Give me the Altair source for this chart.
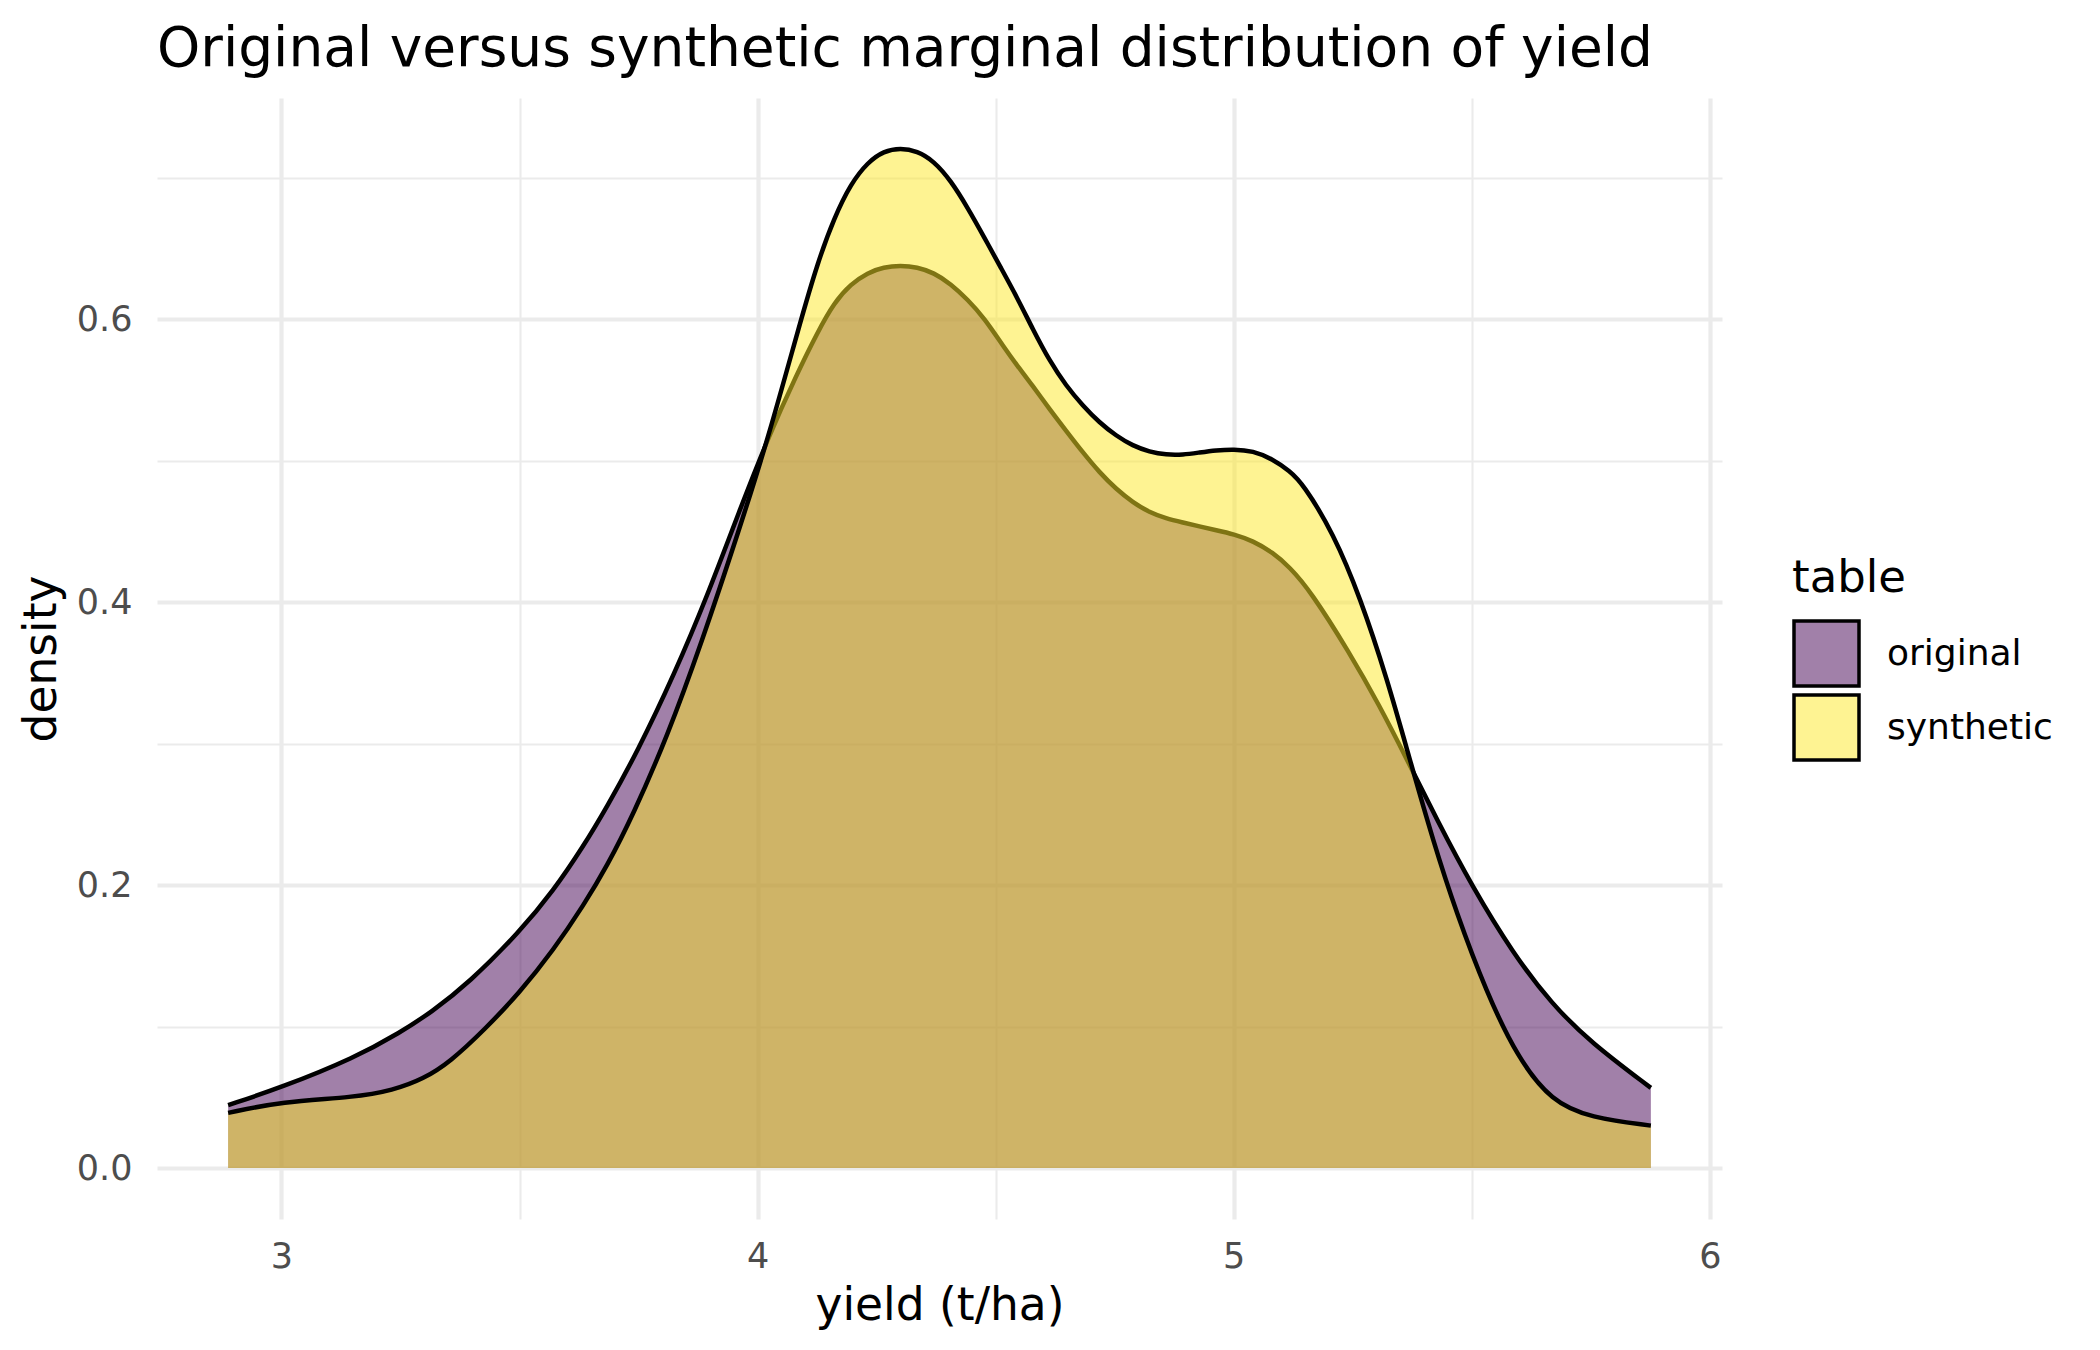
import altair as alt
import pandas as pd

# ---- data ----
tables = ["original", "synthetic"]

orig_x = [2.888, 3.0, 3.154, 3.25, 3.314, 3.394, 3.5, 3.571, 3.635, 3.683, 3.747,
          3.825, 3.895, 3.962, 4.024, 4.082, 4.126, 4.161, 4.196, 4.231, 4.265, 4.30,
          4.335, 4.37, 4.406, 4.441, 4.476, 4.518, 4.543, 4.578, 4.613, 4.648, 4.683,
          4.718, 4.753, 4.788, 4.823, 4.858, 4.893, 4.928, 4.963, 5.0, 5.04, 5.082,
          5.117, 5.161, 5.242, 5.306, 5.362, 5.427, 5.499, 5.588, 5.668, 5.749, 5.876]
orig_y = [0.0445, 0.057, 0.078, 0.096, 0.110, 0.131, 0.167, 0.196, 0.228, 0.255, 0.294,
          0.349, 0.405, 0.465, 0.518, 0.561, 0.591, 0.612, 0.625, 0.633, 0.637, 0.638,
          0.637, 0.633, 0.625, 0.614, 0.601, 0.580, 0.5683, 0.553, 0.5365, 0.5212, 0.5059,
          0.4918, 0.480, 0.4706, 0.4635, 0.4592, 0.4564, 0.4536, 0.451, 0.4482, 0.4435, 0.4352,
          0.425, 0.408, 0.365, 0.327, 0.290, 0.246, 0.200, 0.151, 0.116, 0.089, 0.0567]

syn_x = [2.888, 3.0, 3.154, 3.234, 3.298, 3.354, 3.427, 3.5, 3.571, 3.635, 3.683,
         3.739, 3.81, 3.881, 3.962, 4.024, 4.091, 4.126, 4.161, 4.196, 4.231, 4.265,
         4.30, 4.335, 4.37, 4.406, 4.441, 4.476, 4.51, 4.545, 4.578, 4.613, 4.648,
         4.683, 4.718, 4.753, 4.788, 4.823, 4.858, 4.893, 4.928, 4.963, 5.0, 5.04,
         5.082, 5.117, 5.145, 5.209, 5.266, 5.322, 5.37, 5.419, 5.467, 5.531, 5.596,
         5.668, 5.749, 5.876]
syn_y = [0.039, 0.047, 0.050, 0.055, 0.063, 0.075, 0.098, 0.124, 0.154, 0.186, 0.213,
         0.250, 0.305, 0.370, 0.452, 0.518, 0.600, 0.640, 0.672, 0.696, 0.711, 0.719,
         0.7212, 0.719, 0.712, 0.698, 0.679, 0.658, 0.637, 0.6155, 0.593, 0.5707, 0.553,
         0.539, 0.527, 0.5177, 0.5106, 0.5064, 0.5042, 0.5042, 0.5059, 0.5075, 0.5082, 0.5071,
         0.5012, 0.4929, 0.484, 0.449, 0.403, 0.346, 0.2885, 0.231, 0.181, 0.124, 0.078,
         0.047, 0.0356, 0.030]

x_ticks = [3, 3.5, 4, 4.5, 5, 5.5, 6]
y_ticks = [0, 0.1, 0.2, 0.3, 0.4, 0.5, 0.6, 0.7]

area_colors = ["#440154", "#FDE725"]
legend_colors = ["#A180A9", "#FEF392"]

df_orig = pd.DataFrame({"x": orig_x, "density": orig_y, "table": tables[0]})
df_syn = pd.DataFrame({"x": syn_x, "density": syn_y, "table": tables[1]})
df_all = pd.concat([df_orig, df_syn], ignore_index=True)

FONT = "DejaVu Sans"
INTERP = "basis"

x_enc = alt.X(
    "x:Q",
    scale=alt.Scale(domain=[2.7386, 6.0254], nice=False, zero=False),
    axis=alt.Axis(
        values=x_ticks,
        labelExpr="datum.value % 1 === 0 ? format(datum.value, 'd') : ''",
        ticks=False, domain=False, labelFlush=False, labelOverlap=False,
        gridColor="#EBEBEB",
        gridWidth={"condition": {"test": "datum.value % 1 === 0", "value": 4.2}, "value": 2.1},
        labelFontSize=35, labelColor="#4D4D4D", labelFont=FONT, labelPadding=20,
        title="yield (t/ha)", titleFont=FONT, titleFontSize=45.5, titleFontWeight="normal",
        titleColor="black", titlePadding=9,
    ),
)
y_enc = alt.Y(
    "density:Q",
    scale=alt.Scale(domain=[-0.036, 0.7565], nice=False, zero=False),
    axis=alt.Axis(
        values=y_ticks,
        labelExpr="round(datum.value * 10) % 2 === 0 ? format(datum.value, '.1f') : ''",
        ticks=False, domain=False, labelFlush=False, labelOverlap=False,
        gridColor="#EBEBEB",
        gridWidth={"condition": {"test": "round(datum.value * 10) % 2 === 0", "value": 4.2}, "value": 2.1},
        labelFontSize=35, labelColor="#4D4D4D", labelFont=FONT, labelPadding=25,
        title="density", titleFont=FONT, titleFontSize=45.5, titleFontWeight="normal",
        titleColor="black", titlePadding=11,
    ),
)


def area(df, col):
    return alt.Chart(df).mark_area(
        interpolate=INTERP, color=col, fillOpacity=0.5, strokeWidth=0
    ).encode(x=x_enc, y=y_enc, y2=alt.datum(0))


def line(df):
    return alt.Chart(df).mark_line(
        interpolate=INTERP, color="black", strokeWidth=4.5
    ).encode(x=x_enc, y=y_enc)


legend_layer = alt.Chart(df_all).mark_square(opacity=0, size=10).encode(
    x=x_enc,
    y=y_enc,
    color=alt.Color(
        "table:N",
        scale=alt.Scale(domain=tables, range=legend_colors),
        legend=alt.Legend(
            title="table", orient="none", legendX=1635, legendY=458, padding=0,
            titleFont=FONT, titleFontSize=45, titleFontWeight="normal", titleColor="black",
            titlePadding=18,
            labelFont=FONT, labelFontSize=36, labelColor="black", labelOffset=26,
            labelLimit=400,
            symbolType="square", symbolSize=4225, symbolStrokeColor="black",
            symbolStrokeWidth=3.5, symbolOpacity=1, rowPadding=-6,
        ),
    ),
)

chart = alt.layer(
    area(df_orig, area_colors[0]),
    line(df_orig),
    area(df_syn, area_colors[1]),
    line(df_syn),
    legend_layer,
).properties(
    width=1565,
    height=1121,
    padding={"left": 149, "top": 90, "right": 370, "bottom": 123},
    autosize=alt.AutoSizeParams(type="none"),
    view=alt.ViewBackground(stroke="transparent", strokeWidth=0, strokeOpacity=0),
    title=alt.TitleParams(
        "Original versus synthetic marginal distribution of yield",
        anchor="start", frame="group", font=FONT, fontSize=55, fontWeight="normal",
        color="black", baseline="alphabetic", offset=34, dy=57,
    ),
    background="white",
).configure_view(
    stroke="transparent", strokeWidth=0, strokeOpacity=0
).configure_axis(
    domain=False, ticks=False
).configure(font=FONT)

chart.save("out.html", embed_options={"renderer": "svg", "actions": False})
